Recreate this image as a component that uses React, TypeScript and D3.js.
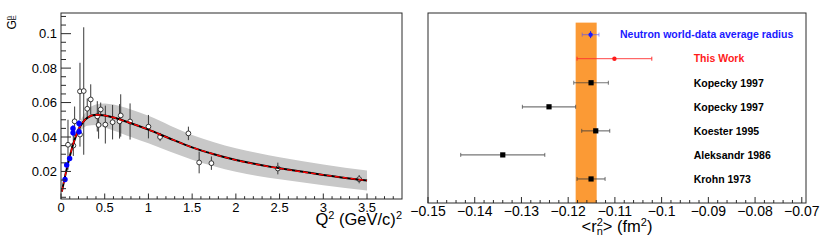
import React from "react";
import * as d3 from "d3";

// ---------- Left panel data (G_E^n vs Q^2) ----------
const curveQ = [0.01, 0.05, 0.1, 0.15, 0.2, 0.25, 0.3, 0.4, 0.5, 0.6, 0.7, 0.8, 1.0, 1.25, 1.5, 1.75, 2.0, 2.5, 3.0, 3.5];
const curveG = [0.0083, 0.018, 0.0287, 0.0375, 0.0443, 0.0485, 0.0511, 0.0529, 0.0525, 0.0513, 0.0497, 0.048, 0.0443, 0.039, 0.034, 0.03, 0.0266, 0.0218, 0.018, 0.0147];
const bandHalf = [0.0004, 0.0006, 0.001, 0.0017, 0.0025, 0.0035, 0.0045, 0.006, 0.007, 0.0075, 0.0078, 0.008, 0.008, 0.0076, 0.0072, 0.007, 0.0068, 0.0064, 0.006, 0.0058];

const blueQ = [0.046, 0.065, 0.099, 0.137, 0.137, 0.206, 0.206];
const blueG = [0.0153, 0.0237, 0.0275, 0.0449, 0.0424, 0.0478, 0.0431];
const blueErr = [0.0015, 0.0015, 0.0015, 0.002, 0.002, 0.002, 0.002];

const openQ = [0.08, 0.141, 0.156, 0.217, 0.217, 0.26, 0.30, 0.34, 0.415, 0.43, 0.454, 0.507, 0.59, 0.67, 0.683, 0.79, 1.0, 1.133, 1.457, 1.58, 1.72, 2.48, 3.41];
const openG = [0.0355, 0.035, 0.0491, 0.0665, 0.0414, 0.0667, 0.0564, 0.0618, 0.052, 0.047, 0.056, 0.0472, 0.0486, 0.0491, 0.0525, 0.049, 0.046, 0.040, 0.0421, 0.0252, 0.0248, 0.0217, 0.0155];
const openErr = [0.0145, 0.006, 0.0086, 0.0166, 0.007, 0.037, 0.006, 0.0088, 0.0088, 0.008, 0.004, 0.011, 0.01, 0.01, 0.0123, 0.0105, 0.0068, 0.0024, 0.0039, 0.0063, 0.0039, 0.0034, 0.0024];

const leftXTicks = [0, 0.5, 1, 1.5, 2, 2.5, 3, 3.5];
const leftXLabels = ["0", "0.5", "1", "1.5", "2", "2.5", "3", "3.5"];
const leftYTicks = [0.02, 0.04, 0.06, 0.08, 0.1];
const leftYLabels = ["0.02", "0.04", "0.06", "0.08", "0.1"];

// ---------- Right panel data (<r_n^2>) ----------
const radNames = ["Neutron world-data average radius", "This Work", "Kopecky 1997", "Kopecky 1997", "Koester 1995", "Aleksandr 1986", "Krohn 1973"];
const radValues = [-0.1152, -0.1101, -0.1151, -0.1241, -0.1141, -0.134, -0.1151];
const radErrors = [0.0018, 0.008, 0.0037, 0.0057, 0.003, 0.009, 0.003];
const radRows = [7, 6, 5, 4, 3, 2, 1];
const bandLo = -0.1184;
const bandHi = -0.1139;
const rightXTicks = [-0.15, -0.14, -0.13, -0.12, -0.11, -0.1, -0.09, -0.08, -0.07];
const rightXLabels = ["\u22120.15", "\u22120.14", "\u22120.13", "\u22120.12", "\u22120.11", "\u22120.1", "\u22120.09", "\u22120.08", "\u22120.07"];

const FONT = "'Liberation Sans', Arial, Helvetica, sans-serif";
const FRAME = "#2a2a2a";

export default function App() {
  // left scales
  const xL = d3.scaleLinear().domain([0, 3.9]).range([61, 402]);
  const yL = d3.scaleLinear().domain([0.004, 0.112]).range([199, 13]);
  // right scales
  const xR = d3.scaleLinear().domain([-0.15, -0.0691]).range([428, 806]);
  const yR = d3.scaleLinear().domain([0, 7.9]).range([203, 13]);

  const idx = curveQ.map((_, i) => i);
  const line = d3
    .line<number>()
    .x((i) => xL(curveQ[i]))
    .y((i) => yL(curveG[i]))
    .curve(d3.curveMonotoneX);
  const area = d3
    .area<number>()
    .x((i) => xL(curveQ[i]))
    .y0((i) => yL(curveG[i] - bandHalf[i]))
    .y1((i) => yL(curveG[i] + bandHalf[i]))
    .curve(d3.curveMonotoneX);

  const leftXMinor = d3.range(0, 3.9, 0.1).filter((v) => Math.abs(v * 2 - Math.round(v * 2)) > 1e-6);
  const leftYMinor = d3.range(0.005, 0.112, 0.005).filter((v) => Math.abs(v / 0.02 - Math.round(v / 0.02)) > 1e-6);
  const rightXMinor = d3.range(-0.15, -0.069, 0.002).filter((v) => Math.abs(v / 0.01 - Math.round(v / 0.01)) > 1e-6);

  const radColor = (i: number) => (i === 0 ? "#1a1aff" : i === 1 ? "#ff1a1a" : "#000");
  const barColor = (i: number) => (i === 0 ? "rgba(80,80,255,0.55)" : i === 1 ? "#ff3030" : "rgba(60,60,60,0.7)");

  return (
    <svg width={830} height={242} style={{ position: "absolute", left: 0, top: 0, display: "block" }} fontFamily={FONT}>
      <rect x={0} y={0} width={830} height={242} fill="#fff" />

      {/* ===== LEFT PANEL ===== */}
      <path d={area(idx) || ""} fill="#c8c8c8" stroke="none" />
      {openQ.map((q, i) => (
        <line key={"o" + i} x1={xL(q)} x2={xL(q)} y1={yL(openG[i] - openErr[i])} y2={yL(openG[i] + openErr[i])} stroke="#3a3a3a" strokeWidth={1} />
      ))}
      {openQ.map((q, i) => (
        <circle key={"oc" + i} cx={xL(q)} cy={yL(openG[i])} r={2.4} fill="#fff" stroke="#222" strokeWidth={0.9} />
      ))}
      <path d={line(idx) || ""} fill="none" stroke="#000" strokeWidth={2} />
      <path d={line(idx) || ""} fill="none" stroke="#ff0000" strokeWidth={1.4} strokeDasharray="5,3" />
      {blueQ.map((q, i) => (
        <g key={"b" + i}>
          <line x1={xL(q)} x2={xL(q)} y1={yL(blueG[i] - blueErr[i])} y2={yL(blueG[i] + blueErr[i])} stroke="#0000ff" strokeWidth={1} />
          <circle cx={xL(q)} cy={yL(blueG[i])} r={2.7} fill="#0000ff" />
        </g>
      ))}

      <rect x={61} y={13} width={341} height={186} fill="none" stroke={FRAME} strokeWidth={1} />
      {leftXTicks.map((t, i) => (
        <g key={"lxt" + i}>
          <line x1={xL(t)} x2={xL(t)} y1={199} y2={193.5} stroke={FRAME} strokeWidth={1} />
          <text x={xL(t)} y={211.5} fontSize={13} textAnchor="middle" fill="#000">
            {leftXLabels[i]}
          </text>
        </g>
      ))}
      {leftXMinor.map((t, i) => (
        <line key={"lxm" + i} x1={xL(t)} x2={xL(t)} y1={199} y2={196.2} stroke={FRAME} strokeWidth={1} />
      ))}
      {leftYTicks.map((t, i) => (
        <g key={"lyt" + i}>
          <line x1={61} x2={71} y1={yL(t)} y2={yL(t)} stroke={FRAME} strokeWidth={1} />
          <text x={57} y={yL(t) + 4.6} fontSize={13} textAnchor="end" fill="#000">
            {leftYLabels[i]}
          </text>
        </g>
      ))}
      {leftYMinor.map((t, i) => (
        <line key={"lym" + i} x1={61} x2={66} y1={yL(t)} y2={yL(t)} stroke={FRAME} strokeWidth={1} />
      ))}
      <text x={402} y={225} fontSize={16.5} textAnchor="end" fill="#000">
        Q<tspan dy={-6.5} fontSize={11}>2</tspan>
        <tspan dy={6.5}> (GeV/c)</tspan>
        <tspan dy={-6.5} fontSize={11}>2</tspan>
      </text>
      <g transform="translate(16,29.5) rotate(-90)">
        <text x={0} y={0} fontSize={12} fill="#000">G</text>
        <text x={9.2} y={-5.2} fontSize={7.5} fill="#000">n</text>
        <text x={9.2} y={0.3} fontSize={7.5} fill="#000">E</text>
      </g>

      {/* ===== RIGHT PANEL ===== */}
      <rect x={xR(bandLo)} y={yR(7.5)} width={xR(bandHi) - xR(bandLo)} height={yR(0) - yR(7.5)} fill="#fb9a35" />
      {radValues.map((v, i) => {
        const y = yR(radRows[i]);
        const x1 = xR(v - radErrors[i]);
        const x2 = xR(v + radErrors[i]);
        return (
          <g key={"r" + i}>
            <line x1={x1} x2={x2} y1={y} y2={y} stroke={barColor(i)} strokeWidth={i === 1 ? 0.9 : 1.2} />
            <line x1={x1} x2={x1} y1={y - 2} y2={y + 2} stroke={barColor(i)} strokeWidth={1} />
            <line x1={x2} x2={x2} y1={y - 2} y2={y + 2} stroke={barColor(i)} strokeWidth={1} />
            {i === 0 ? (
              <g>
                <line x1={xR(v)} x2={xR(v)} y1={y - 3.5} y2={y + 3.5} stroke="#1a1aff" strokeWidth={1} />
                <circle cx={xR(v)} cy={y} r={2.2} fill="#1a1aff" />
              </g>
            ) : i === 1 ? (
              <circle cx={xR(v)} cy={y} r={2.2} fill="#ff1a1a" />
            ) : (
              <rect x={xR(v) - 2.6} y={y - 2.6} width={5.2} height={5.2} fill="#000" />
            )}
            <text x={i === 0 ? 620 : 693.7} y={y + 3.8} fontSize={10.5} fontWeight="bold" fill={radColor(i)}>
              {radNames[i]}
            </text>
          </g>
        );
      })}
      <rect x={428} y={13} width={378} height={190} fill="none" stroke={FRAME} strokeWidth={1} />
      {rightXTicks.map((t, i) => (
        <g key={"rxt" + i}>
          <line x1={xR(t)} x2={xR(t)} y1={203} y2={197} stroke={FRAME} strokeWidth={1} />
          <text x={xR(t)} y={216} fontSize={14} textAnchor="middle" fill="#000">
            {rightXLabels[i]}
          </text>
        </g>
      ))}
      {rightXMinor.map((t, i) => (
        <line key={"rxm" + i} x1={xR(t)} x2={xR(t)} y1={203} y2={200} stroke={FRAME} strokeWidth={1} />
      ))}
      <text x={617} y={232} fontSize={16.5} textAnchor="middle" fill="#000">
        &lt;r<tspan dy={-6.5} fontSize={11}>2</tspan>
        <tspan dx={-6.1} dy={9.5} fontSize={11}>n</tspan>
        <tspan dy={-3}>&gt; (fm</tspan>
        <tspan dy={-6.5} fontSize={11}>2</tspan>
        <tspan dy={6.5}>)</tspan>
      </text>
    </svg>
  );
}
